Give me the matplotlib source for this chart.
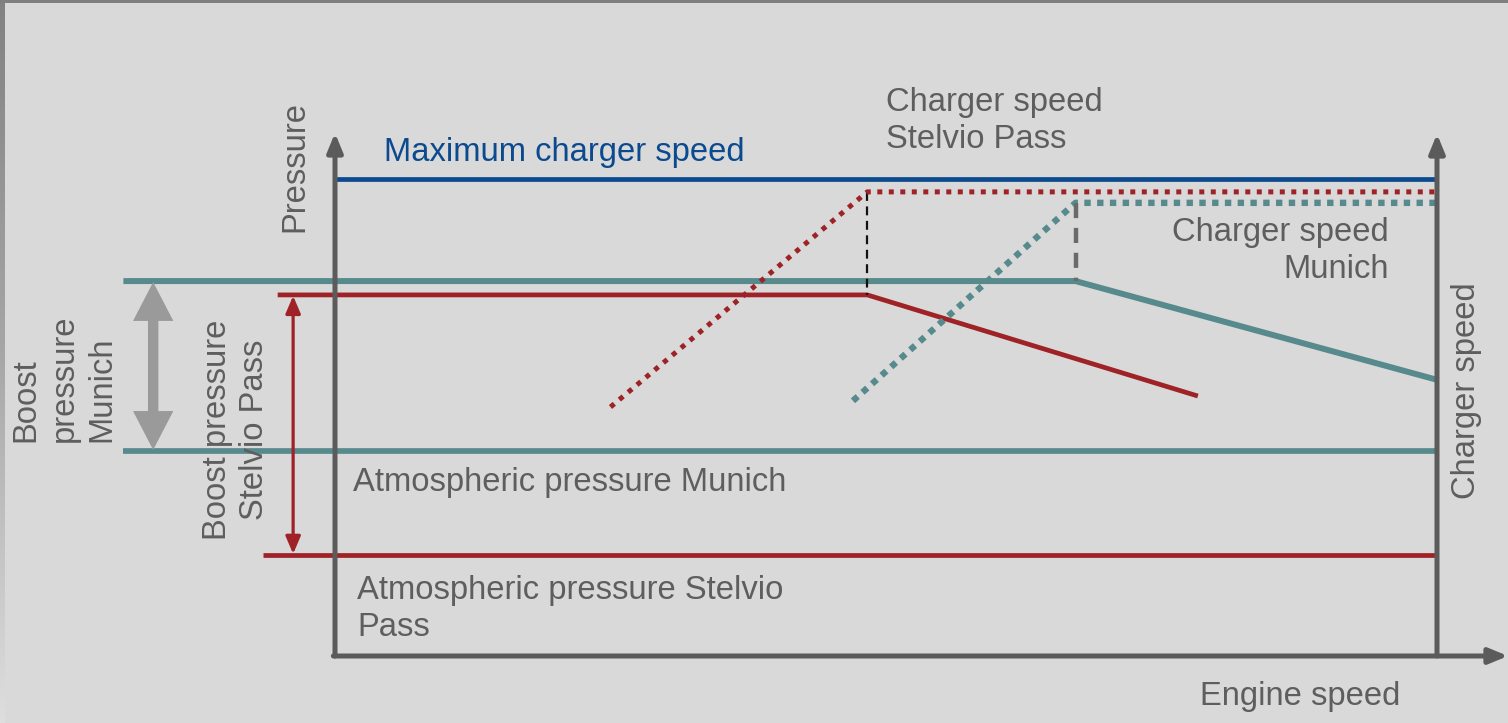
import numpy as np
import matplotlib
matplotlib.use("Agg")
import matplotlib.pyplot as plt
from matplotlib.patches import Rectangle
from matplotlib.colors import LinearSegmentedColormap

plt.rcParams['font.family'] = ['Liberation Sans', 'DejaVu Sans']

# ---------------- data (schematic units: engine speed 0-100, pressure 0-100) -------------
max_charger_speed = 100.0

charger_stelvio_x = [25.0, 48.3, 100.0]
charger_stelvio_y = [52.2, 97.3, 97.3]

charger_munich_x = [47.0, 67.2, 100.0]
charger_munich_y = [53.5, 95.0, 95.0]

boost_munich_x = [-19.2, 67.2, 100.0]
boost_munich_y = [78.6, 78.6, 57.9]

boost_stelvio_x = [-5.2, 48.3, 78.3]
boost_stelvio_y = [75.7, 75.7, 54.5]

atm_munich_x = [-19.2, 100.0]
atm_munich = 43.0

atm_stelvio_x = [-6.5, 100.0]
atm_stelvio = 21.2

munich_arrow_x = -16.5
stelvio_arrow_x = -3.8

# ---------------- styling -------------
W, H = 1508, 723
BG = '#d9d9d9'
BLUE = '#0b4a8e'
TEAL = '#578a8c'
RED = '#9e2226'
AXC = '#5b5b5b'
TXT = '#5e5e5e'
GREYARR = '#9a9a9a'
FS = 23.6
LS = 1.28

# pixel geometry of the schematic frame
OX, OY = 335, 656         # origin pixel
XPX = (1437 - 335) / 100  # px per engine-speed unit
YPX = (656 - 179) / 100   # px per pressure unit

fig = plt.figure(figsize=(W / 100, H / 100), dpi=100, facecolor=BG)
ax = fig.add_axes([0, 0, 1, 1])
ax.set_facecolor(BG)
ax.set_xlim(-OX / XPX, (W - OX) / XPX)
ax.set_ylim((OY - H) / YPX, OY / YPX)
ax.axis('off')

# window border (top line + left gradient)
fig.add_artist(Rectangle((0, 1 - 3 / H), 1, 3 / H, transform=fig.transFigure,
                         facecolor='#7f7f7f', edgecolor='none', zorder=10))
gax = fig.add_axes([0, 0, 5 / W, 1 - 3 / H])
grad = np.linspace(0, 1, 256).reshape(-1, 1)
cmap = LinearSegmentedColormap.from_list('edge', ['#828282', '#a8a8a8', '#dedede'])
gax.imshow(grad, aspect='auto', cmap=cmap, extent=[0, 1, 0, 1], origin='upper')
gax.axis('off')

# ---------------- lines -------------
ax.plot([0, 100], [max_charger_speed, max_charger_speed], color=BLUE, lw=3.4,
        solid_capstyle='butt', zorder=6)

ax.plot(boost_munich_x, boost_munich_y, color=TEAL, lw=4.3, solid_capstyle='butt',
        solid_joinstyle='miter', zorder=3)
ax.plot(atm_munich_x, [atm_munich, atm_munich], color=TEAL, lw=4.1,
        solid_capstyle='butt', zorder=3)

ax.plot(boost_stelvio_x, boost_stelvio_y, color=RED, lw=3.4, solid_capstyle='butt',
        solid_joinstyle='miter', zorder=3)
ax.plot(atm_stelvio_x, [atm_stelvio, atm_stelvio], color=RED, lw=3.4,
        solid_capstyle='butt', zorder=3)

ax.plot(charger_stelvio_x, charger_stelvio_y, color=RED, lw=3.6,
        linestyle=(0, (1, 1.3)), dash_capstyle='butt', zorder=5)
ax.plot(charger_munich_x, charger_munich_y, color=TEAL, lw=4.6,
        linestyle=(0, (1, 1.0)), dash_capstyle='butt', zorder=4)

# transition markers
ax.plot([charger_stelvio_x[1]] * 2, [charger_stelvio_y[1], boost_stelvio_y[1]],
        color='#111111', lw=1.6, linestyle=(0, (4, 2.5)), zorder=4)
ax.plot([charger_munich_x[1]] * 2, [charger_munich_y[1], boost_munich_y[1]],
        color='#6a6a6a', lw=3.2, linestyle=(0, (3.4, 2.2)), zorder=4)

# ---------------- axes arrows -------------
def axis_arrow(x0, y0, x1, y1):
    ax.annotate('', xy=(x1, y1), xytext=(x0, y0),
                arrowprops=dict(arrowstyle='-|>,head_length=0.8,head_width=0.33',
                                mutation_scale=14, lw=3.6, color=AXC,
                                shrinkA=0, shrinkB=0), zorder=8)

axis_arrow(0, 0, 0, (OY - 133) / YPX)
axis_arrow(100, 0, 100, (OY - 134) / YPX)
axis_arrow(-0.15, 0, (W - OX) / XPX, 0)

# Boost pressure Munich: big grey double arrow
mid_m = (boost_munich_y[0] + atm_munich) / 2
for tip in (boost_munich_y[0] - 0.2, atm_munich + 0.2):
    ax.annotate('', xy=(munich_arrow_x, tip), xytext=(munich_arrow_x, mid_m),
                arrowprops=dict(arrowstyle='simple,head_length=2.8,head_width=2.9,tail_width=0.75',
                                mutation_scale=10, lw=0, color=GREYARR,
                                shrinkA=0, shrinkB=0), zorder=5)

# Boost pressure Stelvio: thin red double arrow
ax.annotate('', xy=(stelvio_arrow_x, boost_stelvio_y[0] - 0.2),
            xytext=(stelvio_arrow_x, atm_stelvio + 0.2),
            arrowprops=dict(arrowstyle='<|-|>,head_length=0.75,head_width=0.32',
                            mutation_scale=14, lw=2.3, color=RED,
                            shrinkA=0, shrinkB=0), zorder=5)

# ---------------- labels -------------
def T(px, py, s, **kw):
    kw.setdefault('color', TXT)
    kw.setdefault('fontsize', FS)
    kw.setdefault('linespacing', LS)
    fig.text(px / W, 1 - py / H, s, **kw)

T(295, 167, 'Pressure', rotation=90, ha='center', va='center')
T(384, 152, 'Maximum charger speed', color=BLUE, ha='left', va='center')
T(886, 121, 'Charger speed\nStelvio Pass', ha='left', va='center', multialignment='left')
T(1389, 251, 'Charger speed\nMunich', ha='right', va='center', multialignment='right')
T(353, 482, 'Atmospheric pressure Munich', ha='left', va='center')
T(357, 609, 'Atmospheric pressure Stelvio\nPass', ha='left', va='center', multialignment='left')
T(1300, 697, 'Engine speed', ha='center', va='center')
T(1467, 391, 'Charger speed', rotation=90, ha='center', va='center')
T(64, 442, 'Boost\npressure\nMunich', rotation=90, ha='center', va='bottom',
  multialignment='left')
T(236, 430, 'Boost pressure\nStelvio Pass', rotation=90, ha='center', va='center',
  multialignment='center')

fig.savefig('out.png', dpi=100, facecolor=BG)
